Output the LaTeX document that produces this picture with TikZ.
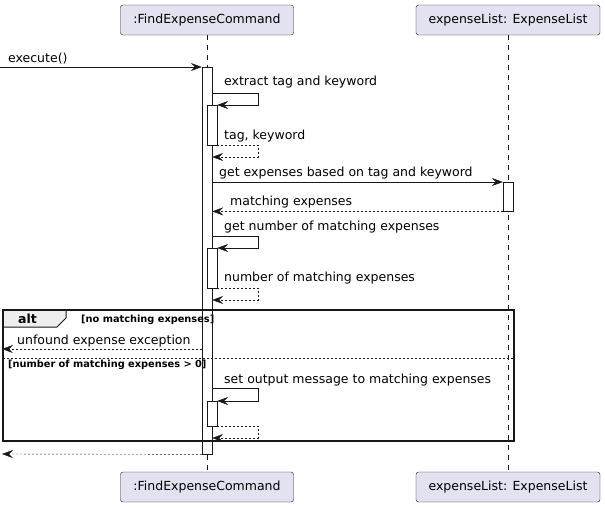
\documentclass[tikz,border=0pt]{standalone}
\usepackage{fontspec}
\setmainfont{DejaVu Sans}
\usetikzlibrary{arrows.meta}
\definecolor{partfill}{HTML}{E2E2F0}
\definecolor{linecol}{HTML}{181818}
\definecolor{tabfill}{HTML}{EEEEEE}

\begin{document}
\begin{tikzpicture}[x=1pt, y=-1pt]
\tikzset{ >={Stealth[length=11pt,width=8pt,inset=4pt]},
  part/.style={draw=linecol, fill=partfill, rounded corners=2.5pt, minimum height=30pt, inner sep=0pt, font=\fontsize{12.5}{15}\selectfont},
  bar/.style={draw=linecol, fill=white, minimum width=10pt, inner sep=0pt, anchor=north},
  lbl/.style={anchor=west, inner sep=0pt, font=\fontsize{12.5}{15}\selectfont},
  guard/.style={anchor=west, inner sep=0pt, font=\bfseries\fontsize{9.8}{11}\selectfont},
  msg/.style={draw=linecol, ->},
  ret/.style={draw=linecol, ->, dash pattern=on 2pt off 2pt},
  lifeline/.style={draw=linecol, dash pattern=on 5pt off 5pt, line width=0.5pt},
}
\useasboundingbox (0,0) rectangle (605,507);

%\draw [lightgray, dashed](0,0) grid[step=50] (605,507);

\node [part, minimum width=173pt] (fecTop) at (207,20) {:FindExpenseCommand};
\node [part, minimum width=184pt] (elTop) at (508,20) {expenseList: ExpenseList};
\node [part, minimum width=173pt] (fecBot) at (207,487) {:FindExpenseCommand};
\node [part, minimum width=184pt] (elBot) at (508,487) {expenseList: ExpenseList};

\draw [lifeline] (fecTop) -- (fecBot);
\draw [lifeline] (elTop) -- (elBot);

\node [bar, minimum height=387pt] (act) at (207,67) {};
\node [bar, minimum height=40pt] (act1) at (212,105) {};
\node [bar, minimum height=29pt] (elbar) at (508,182) {};
\node [bar, minimum height=40pt] (act2) at (212,248) {};
\node [bar, minimum height=25pt] (act3) at (212,401) {};

\coordinate (caller) at (0,67);
\coordinate (exitA) at (2,349);
\coordinate (exitB) at (2,454);

\node [lbl] at (8,59) {execute()};
\node [lbl] at (224,82) {extract tag and keyword};
\node [lbl] at (224,136) {tag, keyword};
\node [lbl] at (219,173) {get expenses based on tag and keyword};
\node [lbl] at (230,202) {matching expenses};
\node [lbl] at (224,227) {get number of matching expenses};
\node [lbl] at (224,278) {number of matching expenses};
\node [lbl] at (17,341) {unfound expense exception};
\node [lbl] at (224,380) {set output message to matching expenses};

\draw [msg] (caller) -- (act.north west);
\draw [msg] (act.east |- 0,93) -- ++(46,0) |- (act1.north east);
\draw [ret] (act1.south east) -- ++(41,0) |- (act.east |- 0,157);
\draw [msg] (act.east |- elbar.north) -- (elbar.north west);
\draw [ret] (elbar.south west) -- (act.east |- elbar.south);
\draw [msg] (act.east |- 0,236) -- ++(46,0) |- (act2.north east);
\draw [ret] (act2.south east) -- ++(41,0) |- (act.east |- 0,300);

% alt fragment
\draw [fill=tabfill, draw=linecol, line width=1pt] (3,310) -- (66,310) -- (66,318) -- (57,327) -- (3,327) -- cycle;
\draw [draw=linecol, line width=1.5pt] (3,310) rectangle (514,441);
\node [anchor=west, inner sep=0pt, font=\bfseries\fontsize{12.5}{15}\selectfont] at (18,319) {alt};
\node [guard] at (81,320) {[no matching expenses]};
\draw [ret] (act.west |- exitA) -- (exitA);
\draw [linecol, dash pattern=on 2pt off 2pt] (3,358) -- (514,358);
\node [guard] at (8,365) {[number of matching expenses > 0]};
\draw [msg] (act.east |- 0,388) -- ++(46,0) |- (act3.north east);
\draw [ret] (act3.south east) -- ++(41,0) |- (act.east |- 0,438);

\draw [ret] (act.south west) -- (exitB);

\end{tikzpicture}
\end{document}
